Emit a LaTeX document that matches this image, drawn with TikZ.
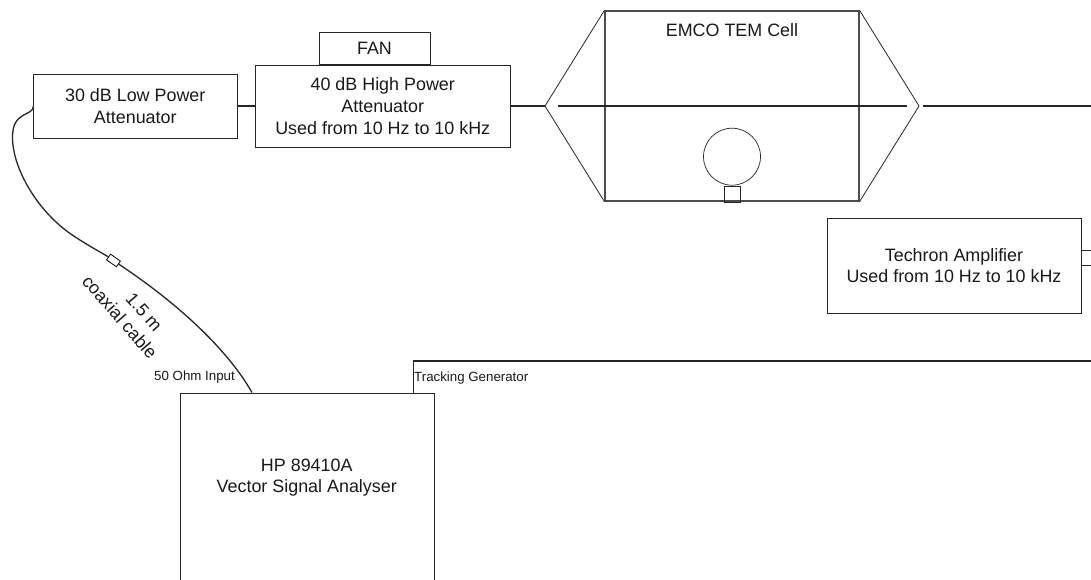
\documentclass[tikz,border=0pt]{standalone}
\usepackage{fontspec}
\setmainfont{Liberation Sans}
\newcommand{\mainsz}{\fontsize{17.9}{21.6}\selectfont}
\newcommand{\smallsz}{\fontsize{13.3}{15}\selectfont}
\tikzset{
  x=1pt,y=-1pt,
  box/.style={draw=black!85,line width=0.9pt,rectangle,inner sep=0pt,align=center,font=\mainsz,text=black!90},
  cellline/.style={draw=black!70,line width=1.2pt},
  wire/.style={draw=black!85,line width=1.2pt},
  thin wire/.style={draw=black!85,line width=0.8pt},
  lbl/.style={inner sep=0pt,align=center,font=\mainsz,text=black!90},
  smalllbl/.style={inner sep=0pt,font=\smallsz,text=black!90,anchor=base west},
}
\begin{document}
\begin{tikzpicture}
\useasboundingbox (0,0) rectangle (1091,579);
\clip (0,0) rectangle (1091,579);
% boxes
\node[box,minimum width=203.5pt,minimum height=64pt] (low) at (135.25,106) {30 dB Low Power\\Attenuator};
\node[box,minimum width=254.5pt,minimum height=82pt] (high) at (382.75,106) {40 dB High Power\\Attenuator\\Used from 10 Hz to 10 kHz};
\node[box,minimum width=111pt,minimum height=32pt,anchor=south] (fan) at (374.5,65) {FAN};
\node[box,minimum width=254pt,minimum height=95pt] (tech) at (954,265.5) {Techron Amplifier\\Used from 10 Hz to 10 kHz};
\node[box,minimum width=254.5pt,minimum height=240pt,anchor=north west] (hp) at (179.5,392.5) {};
\node[lbl] (hplabel) at (306.75,477.5) {HP 89410A\\Vector Signal Analyser};
% TEM cell
\node[cellline,rectangle,minimum width=254pt,minimum height=190pt,inner sep=0pt] (cell) at (732,106) {};
\node[lbl,anchor=base] (celllabel) at (732,36) {EMCO TEM Cell};
\coordinate (tipL) at (545,106);
\coordinate (tipR) at (919,106);
\draw[thin wire] (cell.north west) -- (tipL) -- (cell.south west);
\draw[thin wire] (cell.north east) -- (tipR) -- (cell.south east);
\coordinate (innerL) at (557.5,106);
\coordinate (innerR) at (906.5,106);
\draw[wire] (innerL) -- (innerR);
\node[draw=black!85,line width=0.7pt,circle,minimum size=57pt,inner sep=0pt] (probe) at (732,156.7) {};
\node[draw=black!85,line width=0.7pt,rectangle,minimum width=16pt,minimum height=16.5pt,inner sep=0pt,anchor=north] (base) at (probe.south) {};
% connectors
\draw[wire] (low.east) -- (high.west);
\draw[wire] (high.east) -- (tipL);
\coordinate (outR) at (923,106);
\coordinate (edgeR) at (1091,106);
\draw[wire] (outR) -- (edgeR);
\coordinate (t1) at (1091,250);
\coordinate (t2) at (1091,265);
\draw[thin wire] (t1 -| tech.east) -- (t1);
\draw[thin wire] (t2 -| tech.east) -- (t2);
\coordinate (tgout) at (413.5,392.5);
\coordinate (tgcorner) at (413.5,361);
\coordinate (tgedge) at (1091,361);
\draw[wire] (tgout) -- (tgcorner) -- (tgedge);
% cable
\coordinate (cabA) at (33.5,106);
\coordinate (cabB) at (252,392.5);
\node[draw=black,line width=0.8pt,fill=white,rectangle,minimum width=12pt,minimum height=7pt,inner sep=0pt,rotate=-35] (conn) at (113.5,260.5) {};
\draw[wire,line width=1.3pt] (cabA) .. controls (33,117) and (12,110) .. (12.5,138)
  .. controls (13,170) and (38,210) .. (68,232)
  .. controls (82,242) and (95,249) .. (conn.west);
\draw[wire,line width=1.3pt] (conn.east) .. controls (170,298) and (225,345) .. (cabB);
% labels
\node[lbl,rotate=-49] (lenlabel) at (144,312) {1.5 m};
\node[lbl,rotate=-49] (cablelabel) at (120,317) {coaxial cable};
\node[smalllbl] (inlabel) at (154,380) {50 Ohm Input};
\node[smalllbl] (tglabel) at (414,381) {Tracking Generator};
\end{tikzpicture}
\end{document}
